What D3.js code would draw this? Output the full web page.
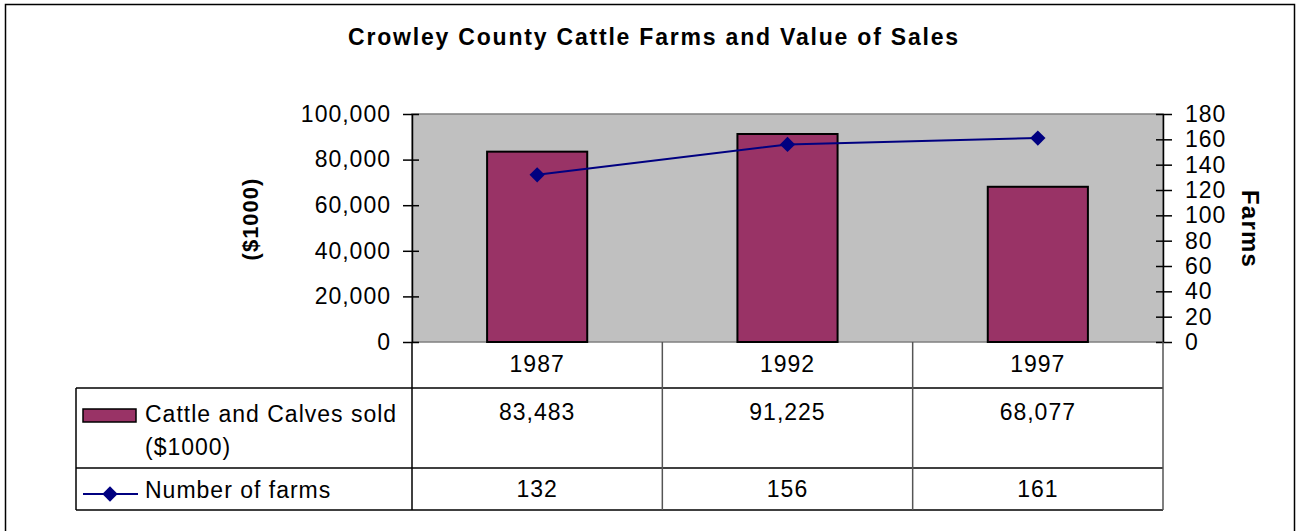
<!DOCTYPE html>
<html><head><meta charset="utf-8">
<script src="https://cdn.jsdelivr.net/npm/d3@7"></script>
<style>body{margin:0;background:#fff}svg text{font-family:"Liberation Sans",Arial,sans-serif;fill:#000;letter-spacing:1px}</style>
</head><body><svg id="c" width="1296" height="531"></svg>
<script>
const title = "Crowley County Cattle Farms and Value of Sales";
const years = ["1987","1992","1997"];
const sales = [83483, 91225, 68077];
const farms = [132, 156, 161];
const salesTicks = [0,20000,40000,60000,80000,100000];
const farmTicks = [0,20,40,60,80,100,120,140,160,180];
const salesName = ["Cattle and Calves sold","($1000)"];
const farmsName = "Number of farms";
const leftTitle = "($1000)";
const rightTitle = "Farms";

const svg = d3.select("#c");
const FS = 23;
const L = 412, R = 1163, T = 114, B = 342;
svg.append("rect").attr("x",5.5).attr("y",4.5).attr("width",1289).attr("height",540).attr("fill","#fff").attr("stroke","#000").attr("stroke-width",1.5);

const x = d3.scaleBand().domain(years).range([L,R]);
const yL = d3.scaleLinear().domain([0,100000]).range([B,T]);
const yR = d3.scaleLinear().domain([0,180]).range([B,T]);

svg.append("rect").attr("x",L).attr("y",T).attr("width",R-L).attr("height",B-T).attr("fill","#c0c0c0").attr("stroke","#808080").attr("stroke-width",1.5);

svg.append("text").attr("x",654).attr("y",45).attr("text-anchor","middle").attr("font-weight","bold").attr("font-size",23).style("letter-spacing","1.8px").text(title);

// bars
const bw = x.bandwidth()*0.4;
svg.selectAll(".bar").data(years).join("rect").attr("class","bar")
  .attr("x",d=>x(d)+x.bandwidth()/2-bw/2).attr("width",bw)
  .attr("y",(d,i)=>yL(sales[i])).attr("height",(d,i)=>B-yL(sales[i]))
  .attr("fill","#993366").attr("stroke","#000").attr("stroke-width",2);

// axes
const gl = svg.append("g").attr("transform",`translate(${L},0)`)
  .call(d3.axisLeft(yL).tickValues(salesTicks).tickFormat(d3.format(",")).tickSizeInner(9).tickSizeOuter(0).tickPadding(13));
gl.selectAll(".tick line").attr("x2",-9).attr("x1",7);
const gr = svg.append("g").attr("transform",`translate(${R},0)`)
  .call(d3.axisRight(yR).tickValues(farmTicks).tickSizeInner(9).tickSizeOuter(0).tickPadding(13));
gr.selectAll(".tick line").attr("x1",-7).attr("x2",9);
[gl,gr].forEach(g=>{
  g.select(".domain").attr("stroke","#000").attr("stroke-width",1.5);
  g.selectAll(".tick line").attr("stroke","#000").attr("stroke-width",1.5);
  g.selectAll("text").attr("font-size",FS).attr("font-family","Liberation Sans, Arial, sans-serif").attr("fill","#000");
});
gl.selectAll("text").attr("x",-21);
gr.selectAll("text").attr("x",22);

// line
const pts = years.map((d,i)=>[x(d)+x.bandwidth()/2, yR(farms[i])]);
svg.append("path").attr("d",d3.line()(pts)).attr("fill","none").attr("stroke","#000080").attr("stroke-width",2);
const diamond = d3.symbol().type(d3.symbolDiamond2).size(150);
svg.selectAll(".pt").data(pts).join("path").attr("transform",d=>`translate(${d[0]},${d[1]})`).attr("d",diamond).attr("fill","#000080");

// axis titles
svg.append("text").attr("transform","translate(258,219) rotate(-90)").attr("text-anchor","middle").attr("font-weight","bold").attr("font-size",22).text(leftTitle);
svg.append("text").attr("transform","translate(1242,229) rotate(90)").attr("text-anchor","middle").attr("font-weight","bold").attr("font-size",24).style("letter-spacing","1.2px").text(rightTitle);

// data table
const TL = 76, r1 = 388, r2 = 468, r3 = 510;
const tbl = svg.append("g").attr("stroke","#000").attr("stroke-width",1.5);
tbl.append("line").attr("x1",TL).attr("x2",R).attr("y1",r1).attr("y2",r1);
tbl.append("line").attr("x1",TL).attr("x2",R).attr("y1",r2).attr("y2",r2);
tbl.append("line").attr("x1",TL).attr("x2",R).attr("y1",r3).attr("y2",r3);
tbl.append("line").attr("x1",TL).attr("x2",TL).attr("y1",r1).attr("y2",r3);
const vx = [L, ...years.map(d=>x(d)+x.bandwidth())];
vx.forEach((v,i)=>tbl.append("line").attr("x1",v).attr("x2",v).attr("y1",B).attr("y2",r3).attr("stroke",i===0?"#000":"#555"));

svg.selectAll(".yr").data(years).join("text").attr("x",d=>x(d)+x.bandwidth()/2).attr("y",372).attr("text-anchor","middle").attr("font-size",FS).text(d=>d);
svg.selectAll(".sv").data(sales).join("text").attr("x",(d,i)=>x(years[i])+x.bandwidth()/2).attr("y",420).attr("text-anchor","middle").attr("font-size",FS).text(d=>d3.format(",")(d));
svg.selectAll(".fv").data(farms).join("text").attr("x",(d,i)=>x(years[i])+x.bandwidth()/2).attr("y",497).attr("text-anchor","middle").attr("font-size",FS).text(d=>d);

// legend keys
svg.append("rect").attr("x",83).attr("y",409).attr("width",53).attr("height",13).attr("fill","#993366").attr("stroke","#000").attr("stroke-width",1.5);
svg.append("text").attr("x",145).attr("y",422).attr("font-size",FS).text(salesName[0]);
svg.append("text").attr("x",145).attr("y",455).attr("font-size",FS).text(salesName[1]);
svg.append("line").attr("x1",83).attr("x2",138).attr("y1",494).attr("y2",494).attr("stroke","#000080").attr("stroke-width",2);
svg.append("path").attr("transform","translate(110,494)").attr("d",diamond).attr("fill","#000080");
svg.append("text").attr("x",145).attr("y",498).attr("font-size",FS).text(farmsName);
</script></body></html>
